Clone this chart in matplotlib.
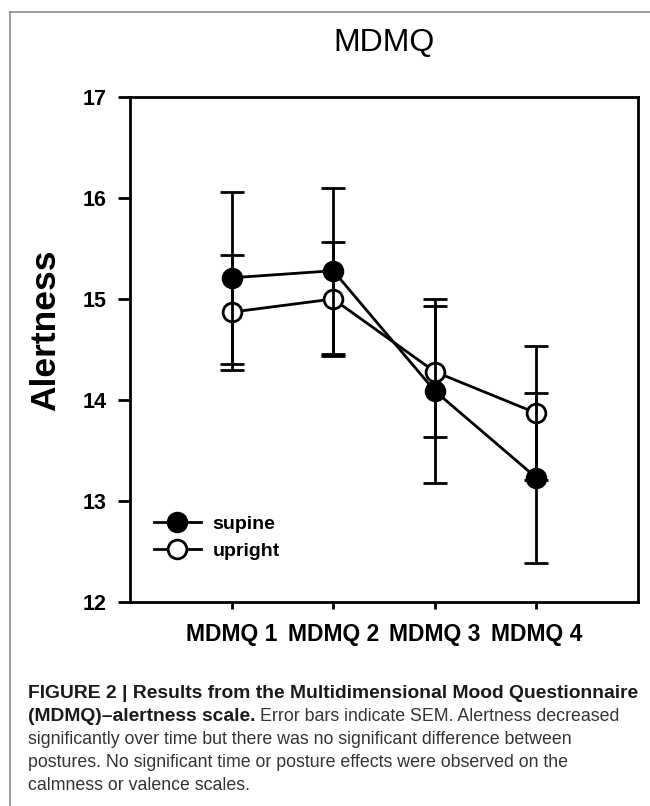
import matplotlib
matplotlib.use('Agg')
import matplotlib.pyplot as plt
from matplotlib.lines import Line2D

plt.rcParams['font.family'] = ['Liberation Sans', 'DejaVu Sans']

# data
conditions = ['MDMQ 1', 'MDMQ 2', 'MDMQ 3', 'MDMQ 4']
supine_mean = [15.21, 15.28, 14.09, 13.23]
supine_sem = [0.85, 0.82, 0.91, 0.84]
upright_mean = [14.87, 15.00, 14.28, 13.87]
upright_sem = [0.57, 0.56, 0.65, 0.66]
yticks = [12, 13, 14, 15, 16, 17]

caption_bold1 = 'FIGURE 2 | Results from the Multidimensional Mood Questionnaire'
caption_bold2 = '(MDMQ)\u2013alertness scale.'
caption_rest2 = 'Error bars indicate SEM. Alertness decreased'
caption_lines = ['significantly over time but there was no significant difference between',
                 'postures. No significant time or posture effects were observed on the',
                 'calmness or valence scales.']

W, H = 650, 806
fig = plt.figure(figsize=(W / 100, H / 100), dpi=100)

# panel frame (only top and left edges are visible in the crop)
fig.add_artist(Line2D([10 / W, 10 / W], [0, 1 - 12 / H], color='#8a8a8a', lw=1.2))
fig.add_artist(Line2D([10 / W, 1], [1 - 12 / H, 1 - 12 / H], color='#8a8a8a', lw=1.2))

ax = fig.add_axes([130 / W, 1 - 602 / H, 508 / W, 505 / H])
x = range(1, len(conditions) + 1)

lw = 2.0
ax.errorbar(x, upright_mean, yerr=upright_sem, color='black', lw=lw, capsize=8.5,
            capthick=lw, elinewidth=lw, marker='o', markersize=13.5,
            markerfacecolor='white', markeredgecolor='black', markeredgewidth=lw,
            zorder=3)
ax.errorbar(x, supine_mean, yerr=supine_sem, color='black', lw=lw, capsize=8.5,
            capthick=lw, elinewidth=lw, marker='o', markersize=13.5,
            markerfacecolor='black', markeredgecolor='black', markeredgewidth=lw,
            zorder=4)

ax.set_xlim(0, 5)
ax.set_ylim(12, 17)
ax.set_xticks(list(x))
ax.set_xticklabels(conditions, fontsize=16.5, fontweight='bold')
ax.set_yticks(yticks)
ax.set_yticklabels([str(t) for t in yticks], fontsize=15.5, fontweight='bold')
ax.tick_params(axis='y', direction='out', length=9, width=lw, pad=8)
ax.tick_params(axis='x', direction='out', length=5, width=lw, pad=10)
ax.tick_params(top=False, right=False)
for s in ax.spines.values():
    s.set_linewidth(2.0)

fig.text(46 / W, 1 - 330 / H, 'Alertness', fontsize=25.5, fontweight='bold',
         rotation=90, ha='center', va='center')

handles = [Line2D([], [], color='black', lw=lw, marker='o', markersize=13.5,
                  markerfacecolor='black', markeredgewidth=lw),
           Line2D([], [], color='black', lw=lw, marker='o', markersize=13.5,
                  markerfacecolor='white', markeredgewidth=lw)]
leg = ax.legend(handles, ['supine', 'upright'], loc='upper left',
                bbox_to_anchor=(154 / W, 1 - 515 / H), bbox_transform=fig.transFigure,
                frameon=False, prop={'weight': 'bold', 'size': 14},
                handlelength=2.4, handletextpad=0.6, labelspacing=0.5,
                borderpad=0, borderaxespad=0)

fig.text(384 / W, 1 - 43 / H, 'MDMQ', fontsize=23, ha='center', va='center')

# caption
cap_x = 28 / W
fig.text(cap_x, 1 - 698 / H, caption_bold1, fontsize=13.9, fontweight='bold',
         color='#1a1a1a', va='baseline')
t2 = fig.text(cap_x, 1 - 721 / H, caption_bold2, fontsize=13.9, fontweight='bold',
              color='#1a1a1a', va='baseline')
fig.canvas.draw()
bb = t2.get_window_extent()
fig.text((bb.x1 + 5) / W, 1 - 721 / H, caption_rest2, fontsize=12.8, color='#333333',
         va='baseline')
for i, line in enumerate(caption_lines):
    fig.text(cap_x, 1 - (744 + 23 * i) / H, line, fontsize=12.8, color='#333333',
             va='baseline')

fig.savefig('out.png', dpi=100)
